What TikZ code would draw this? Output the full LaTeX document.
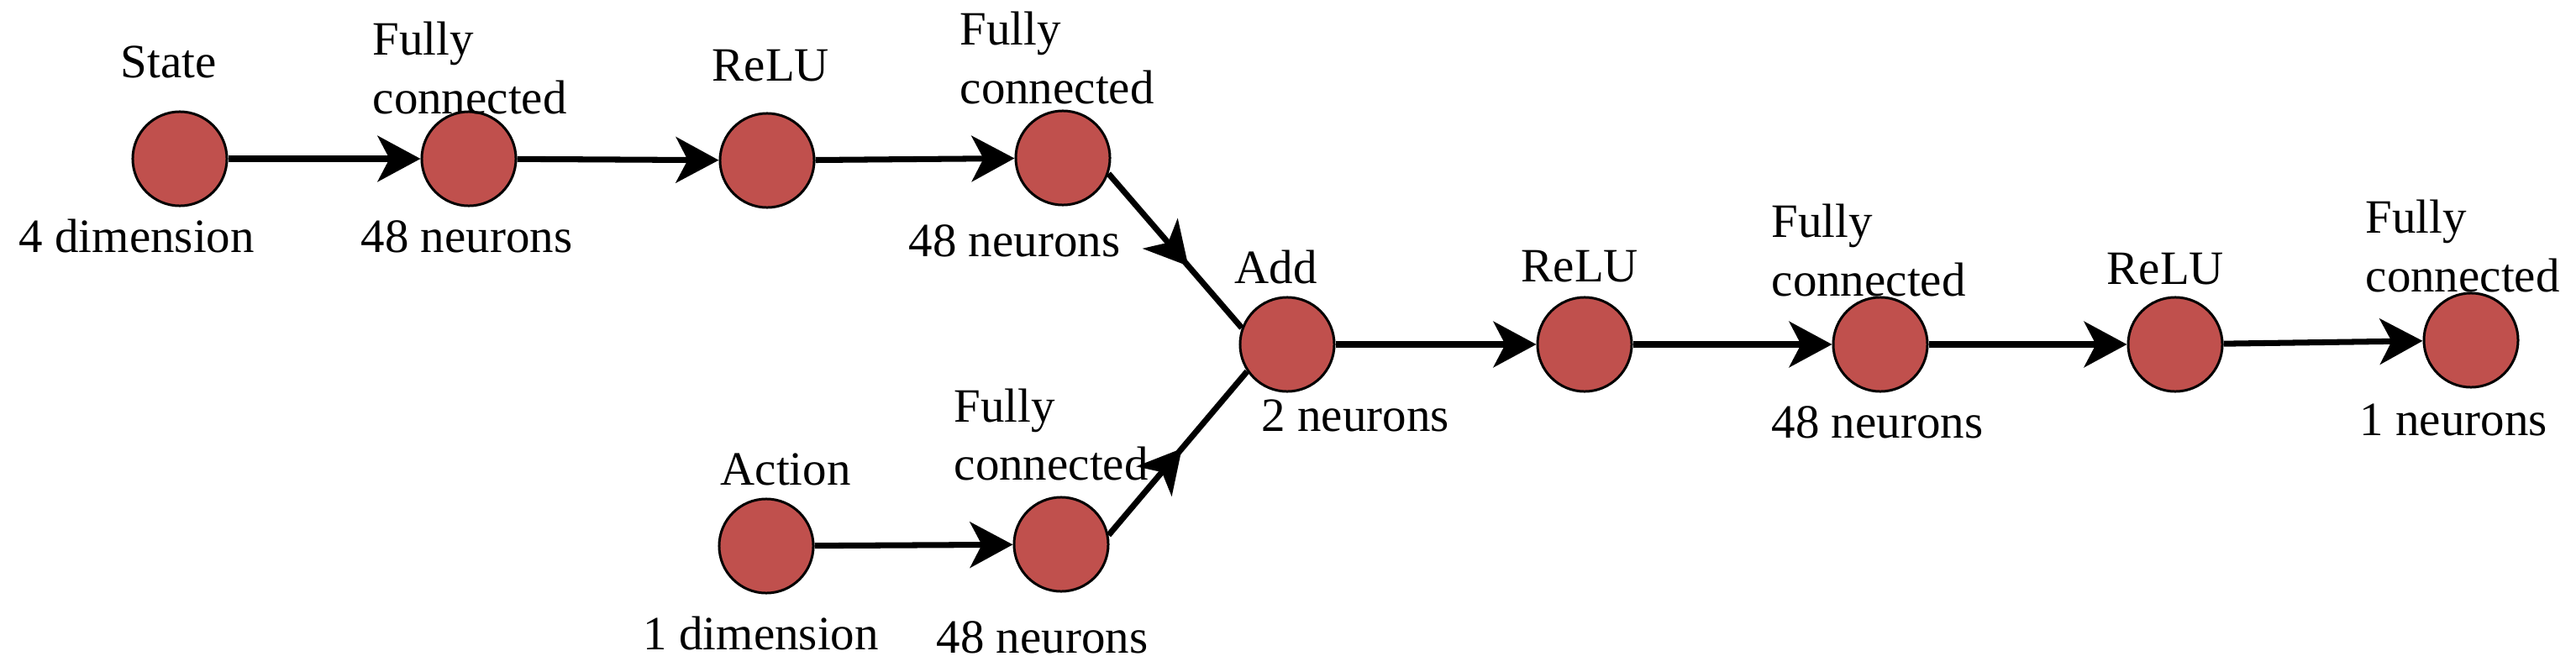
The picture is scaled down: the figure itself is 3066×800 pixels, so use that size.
\documentclass[tikz,border=0pt]{standalone}
\usepackage{fontspec}
\setmainfont{Liberation Serif}
\usetikzlibrary{arrows.meta,decorations.markings}
\definecolor{nodered}{HTML}{C0504D}
\begin{document}
\begin{tikzpicture}[x=0.01cm,y=-0.01cm,
  neuron/.style={circle,draw=black,line width=0.85pt,fill=nodered,minimum size=1.12cm,inner sep=0pt},
  lbl/.style={anchor=base west,inner sep=0pt,font=\fontsize{16.2}{19}\selectfont},
  conn/.style={line width=2pt,draw=black},
  tip/.style={-{Stealth[length=14.5pt,width=15.5pt,inset=4pt]}},
  arrowmid/.style={postaction={decorate},decoration={markings,mark=at position #1 with {\arrow{Stealth[length=14.5pt,width=15.5pt,inset=4pt]}}}}
]
\useasboundingbox (0,0) rectangle (3066,800);
% neurons
\node[neuron] (state)  at (214,189) {};
\node[neuron] (fc1)    at (558,189) {};
\node[neuron] (relu1)  at (913,191) {};
\node[neuron] (fc2)    at (1265,188) {};
\node[neuron] (add)    at (1532,410) {};
\node[neuron] (relu2)  at (1886,410) {};
\node[neuron] (fc3)    at (2238,410) {};
\node[neuron] (relu3)  at (2589,410) {};
\node[neuron] (fc4)    at (2941,405) {};
\node[neuron] (action) at (912,650) {};
\node[neuron] (fc5)    at (1263,648) {};
% connectors
\draw[conn,tip] (state) -- (fc1);
\draw[conn,tip] (fc1) -- (relu1);
\draw[conn,tip] (relu1) -- (fc2);
\draw[conn,arrowmid=0.6] (fc2.-19) -- (add.160);
\draw[conn,tip] (action) -- (fc5);
\draw[conn,arrowmid=0.53] (fc5.11) -- (add.214);
\draw[conn,tip] (add) -- (relu2);
\draw[conn,tip] (relu2) -- (fc3);
\draw[conn,tip] (fc3) -- (relu3);
\draw[conn,tip] (relu3) -- (fc4);
% labels
\node[lbl] (tstate) at (143,92) {State};
\node[lbl] (tfc1a) at (443,65) {Fully};
\node[lbl] (tfc1b) at (443,135) {connected};
\node[lbl] (trelu1) at (847,96) {ReLU};
\node[lbl] (tdim4) at (22,300) {4 dimension};
\node[lbl] (tfc1n) at (429,300) {48 neurons};
\node[lbl] (tfc2a) at (1142,53) {Fully};
\node[lbl] (tfc2b) at (1142,123) {connected};
\node[lbl] (tfc2n) at (1081,305) {48 neurons};
\node[lbl] (tadd) at (1469,337) {Add};
\node[lbl] (taddn) at (1501,513) {2 neurons};
\node[lbl] (trelu2) at (1810,335) {ReLU};
\node[lbl] (tfc3a) at (2108,282) {Fully};
\node[lbl] (tfc3b) at (2108,352) {connected};
\node[lbl] (tfc3n) at (2108,521) {48 neurons};
\node[lbl] (trelu3) at (2507,338) {ReLU};
\node[lbl] (tfc4a) at (2815,277) {Fully};
\node[lbl] (tfc4b) at (2815,347) {connected};
\node[lbl] (tfc4n) at (2808,518) {1 neurons};
\node[lbl] (taction) at (857,577) {Action};
\node[lbl] (tfc5a) at (1135,502) {Fully};
\node[lbl] (tfc5b) at (1135,571) {connected};
\node[lbl] (tdim1) at (765,773) {1 dimension};
\node[lbl] (tfc5n) at (1114,777) {48 neurons};
\end{tikzpicture}
\end{document}
